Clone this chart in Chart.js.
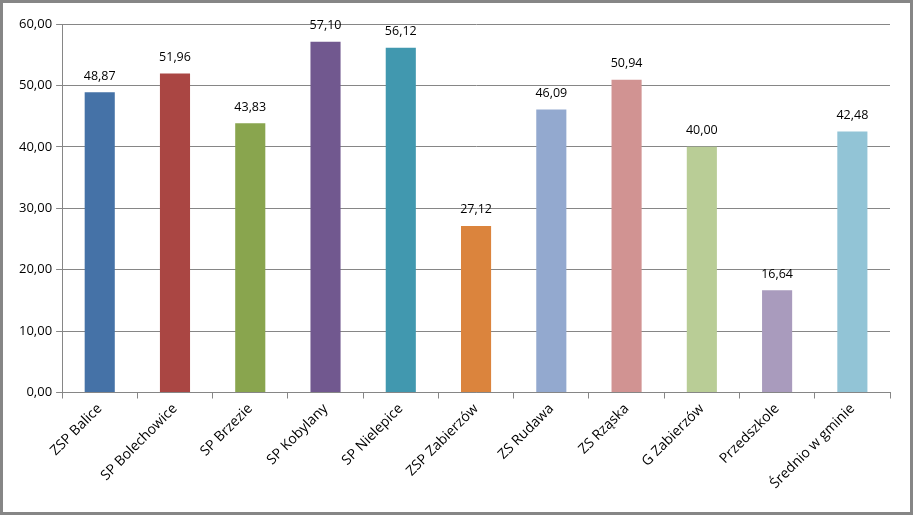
<!DOCTYPE html>
<html>
<head>
<meta charset="utf-8">
<script src="https://cdn.jsdelivr.net/npm/chart.js@4/dist/chart.umd.min.js"></script>
<style>
  html, body { margin: 0; padding: 0; background: #fff; }
  #ramka { width: 913px; height: 515px; box-sizing: border-box; border: 3px solid #868686; position: relative; }
  canvas { display: block; }
</style>
</head>
<body>
<div id="ramka"><canvas id="wykres"></canvas></div>
<script>
// dane wykresu
const szkoly = ['ZSP Balice', 'SP Bolechowice', 'SP Brzezie', 'SP Kobylany', 'SP Nielepice',
    'ZSP Zabierzów', 'ZS Rudawa', 'ZS Rząska', 'G Zabierzów', 'Przedszkole', 'Średnio w gminie'];
const wartosci = [48.87, 51.96, 43.83, 57.10, 56.12, 27.12, 46.09, 50.94, 40.00, 16.64, 42.48];
const kolory = ['#4572A7', '#AA4643', '#89A54E', '#71588F', '#4198AF', '#DB843D',
    '#93A9CF', '#D19392', '#B9CD96', '#A99BBD', '#92C4D6'];

const fmt = v => v.toFixed(2).replace('.', ',');
const czcionka = '"Open Sans", "Liberation Sans", Arial, sans-serif';

// etykiety nad słupkami
const etykiety = {
    id: 'etykiety',
    afterDatasetsDraw(chart) {
        const ctx = chart.ctx;
        const meta = chart.getDatasetMeta(0);
        ctx.save();
        ctx.font = '12.5px ' + czcionka;
        ctx.fillStyle = '#000';
        ctx.textAlign = 'center';
        ctx.textBaseline = 'bottom';
        meta.data.forEach((bar, i) => {
            ctx.fillText(fmt(wartosci[i]), bar.x, bar.y - 10);
        });
        ctx.restore();
    }
};

const ctx = document.getElementById('wykres').getContext('2d');
new Chart(ctx, {
    type: 'bar',
    data: {
        labels: szkoly,
        datasets: [{
            data: wartosci,
            backgroundColor: kolory,
            borderWidth: 0,
            categoryPercentage: 1,
            barPercentage: 0.4
        }]
    },
    options: {
        responsive: true,
        maintainAspectRatio: false,
        animation: false,
        layout: { padding: { top: 21, right: 20, left: 12, bottom: 18 } },
        plugins: { legend: { display: false }, tooltip: { enabled: false } },
        scales: {
            y: {
                min: 0, max: 60,
                ticks: {
                    stepSize: 10,
                    color: '#000',
                    font: { size: 13, family: czcionka },
                    padding: 4,
                    callback: v => fmt(v)
                },
                grid: { color: '#868686', tickLength: 6 },
                border: { color: '#868686' }
            },
            x: {
                ticks: {
                    color: '#000',
                    font: { size: 14, family: czcionka },
                    minRotation: 45,
                    maxRotation: 45,
                    padding: 2
                },
                grid: { drawOnChartArea: false, color: '#868686', tickLength: 6 },
                border: { color: '#868686' }
            }
        }
    },
    plugins: [etykiety]
});
</script>
</body>
</html>
